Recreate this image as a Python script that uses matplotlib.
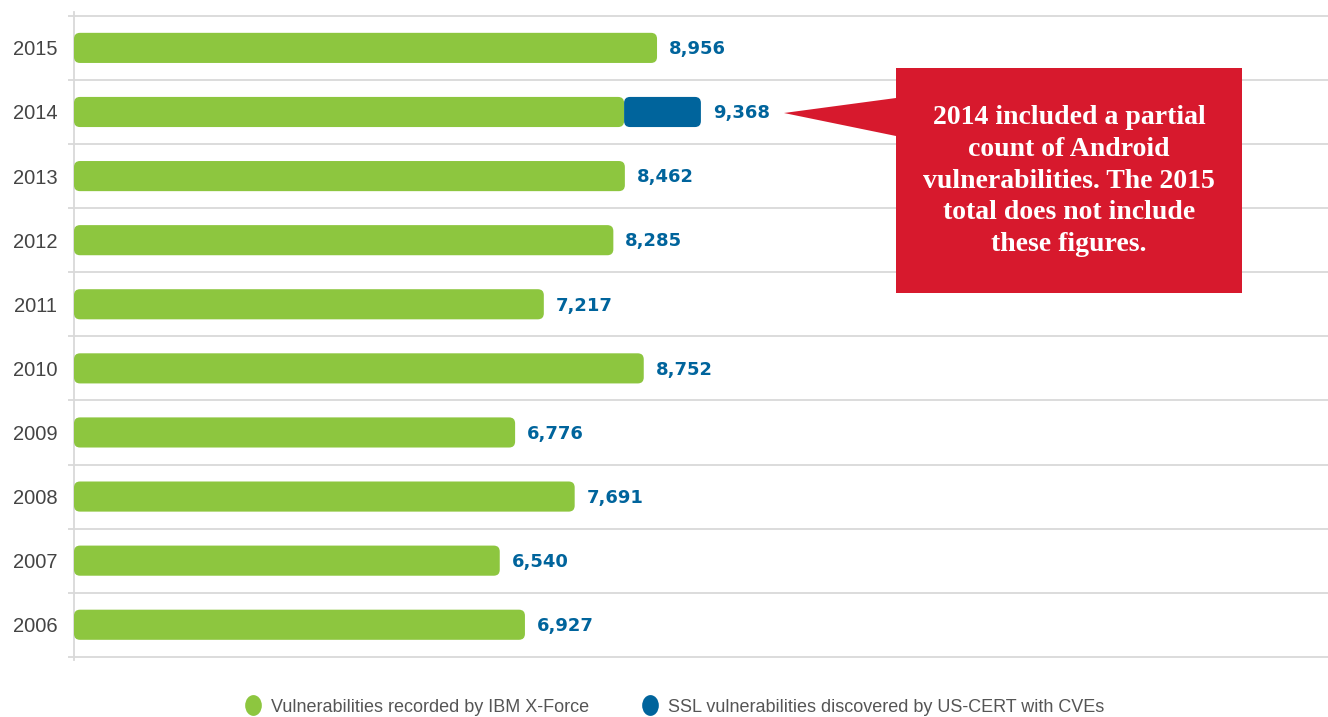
import matplotlib.pyplot as plt
from matplotlib.patches import FancyBboxPatch, Polygon
from matplotlib.lines import Line2D
from matplotlib.path import Path
from matplotlib.transforms import Affine2D

years = ["2015", "2014", "2013", "2012", "2011", "2010", "2009", "2008", "2007", "2006"]
xforce = [8956, 8450, 8462, 8285, 7217, 8752, 6776, 7691, 6540, 6927]
ssl = [0, 1180, 0, 0, 0, 0, 0, 0, 0, 0]
value_labels = ["8,956", "9,368", "8,462", "8,285", "7,217", "8,752", "6,776", "7,691", "6,540", "6,927"]

note = "2014 included a partial\ncount of Android\nvulnerabilities. The 2015\ntotal does not include\nthese figures."
legend_labels = ["Vulnerabilities recorded by IBM X-Force",
                 "SSL vulnerabilities discovered by US-CERT with CVEs"]

green = "#8dc63f"
blue = "#00649c"
red = "#d7192d"
grid_c = "#d9d9d9"

W, H = 1328, 717
fig = plt.figure(figsize=(W / 100, H / 100), dpi=100)
ax = fig.add_axes([74 / W, 1 - 660 / H, 1254 / W, 648 / H])

xmax = 19263
ax.set_xlim(0, xmax)
ax.set_ylim(9.55, -0.56)

bar_h = 0.47
# rounding in data units, scaled so corners look round on screen
px_x = xmax / 1254.0
px_y = (9.55 + 0.56) / 648.0
rad = 6 * px_x
aspect = px_y / px_x


def rounded_bar(x0, width, y, color):
    p = FancyBboxPatch((x0, y - bar_h / 2), width, bar_h,
                       boxstyle="round,pad=0,rounding_size=%f" % rad,
                       mutation_aspect=aspect, fc=color, ec="none", zorder=3)
    ax.add_patch(p)


for i, yr in enumerate(years):
    rounded_bar(0, xforce[i], i, green)
    end = xforce[i]
    if ssl[i] > 0:
        rounded_bar(xforce[i], ssl[i], i, blue)
        end = xforce[i] + ssl[i]
    ax.text(end + 12 * px_x, i + 0.02, value_labels[i], va="center", ha="left",
            fontsize=13, fontweight="bold", color=blue, family="DejaVu Sans")

# gridlines between rows
for k in range(len(years) + 1):
    ax.hlines(k - 0.5, -6 * px_x, xmax, color=grid_c, lw=1.3, clip_on=False, zorder=1)

ax.set_yticks(range(len(years)))
ax.set_yticklabels(years, fontsize=14.5, color="#444444", family="Liberation Sans")
ax.tick_params(axis="y", length=0, pad=12)
ax.set_xticks([])
for s in ["top", "right", "bottom"]:
    ax.spines[s].set_visible(False)
ax.spines["left"].set_color(grid_c)
ax.spines["left"].set_linewidth(1.3)

# callout box with pointer toward the 2014 bar
pts = [(784, 113), (896, 98), (896, 68), (1242, 68), (1242, 293), (896, 293), (896, 136)]
poly = Polygon([(x / W, 1 - y / H) for x, y in pts], closed=True,
               transform=fig.transFigure, fc=red, ec="none", zorder=5)
fig.patches.append(poly)
fig.text(1069 / W, 1 - 181 / H, note, ha="center", va="center", color="white",
         fontsize=20, fontweight="bold", family="Liberation Serif", linespacing=1.36,
         zorder=6)

oval = Path.unit_circle().transformed(Affine2D().scale(0.8, 1.0))
handles = [Line2D([], [], ls="none", marker=oval, ms=15, mfc=green, mec="none"),
           Line2D([], [], ls="none", marker=oval, ms=15, mfc=blue, mec="none")]
leg = fig.legend(handles, legend_labels, loc="center", bbox_to_anchor=(675 / W, 1 - 707 / H),
                 ncol=2, frameon=False, handlelength=0.8, handletextpad=0.6, columnspacing=3.0,
                 prop={"family": "Liberation Sans", "size": 13})
for t in leg.get_texts():
    t.set_color("#555555")

fig.savefig("out.png", dpi=100)
